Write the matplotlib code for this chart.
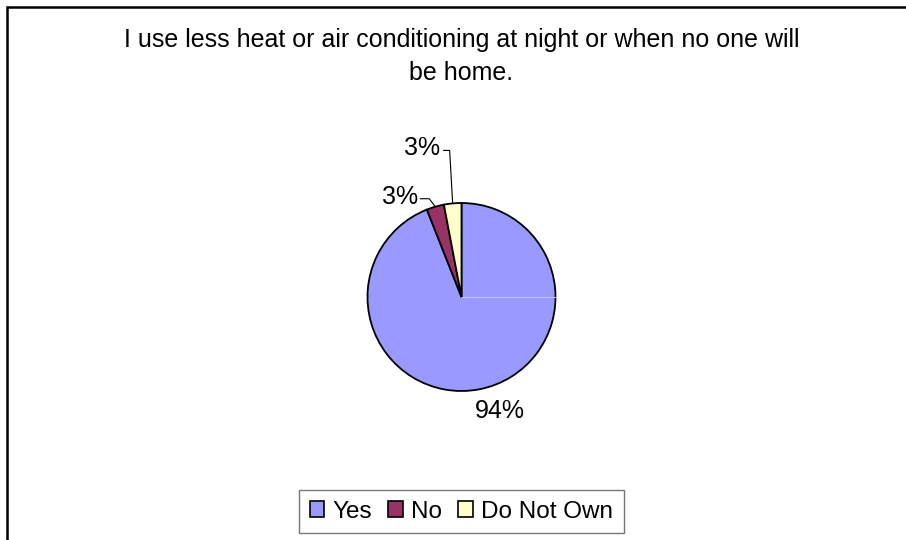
import matplotlib
matplotlib.use("Agg")
import matplotlib.pyplot as plt
import numpy as np
from matplotlib.patches import Patch, Rectangle

title = "I use less heat or air conditioning at night or when no one will\nbe home."
categories = ["Yes", "No", "Do Not Own"]
values = [94, 3, 3]
colors = ["#9999FF", "#993366", "#FFFFCC"]

FONT = ["Liberation Sans", "DejaVu Sans"]
plt.rcParams["font.family"] = FONT

W, H = 906, 540
fig = plt.figure(figsize=(W / 100, H / 100), dpi=100)
ax = fig.add_axes([0, 0, 1, 1])

# pie geometry in pixel units (y up)
cx, cy, r = 461.5, H - 297, 94
wedges, _ = ax.pie(values, colors=colors, startangle=90, counterclock=False,
                   center=(cx, cy), radius=r, frame=True,
                   wedgeprops=dict(edgecolor="black", linewidth=1.3))
# faint seam line seen in the original render
ax.plot([cx, cx + r - 1], [cy, cy], color="#c4c4ff", lw=0.8, zorder=3)

ax.set_xlim(0, W)
ax.set_ylim(0, H)
ax.set_aspect("equal")
ax.axis("off")

# label placement: text offset and optional leader elbow, relative to wedge edge midpoint
label_style = {
    "Yes": dict(text=(21, -22), elbow=None, line_end=None),
    "No": dict(text=(-35, 10), elbow=(-6, 8), line_end=(-15, 8)),
    "Do Not Own": dict(text=(-31, 55), elbow=(-3, 53), line_end=(-9, 53)),
}
for w, cat, v in zip(wedges, categories, values):
    mid = np.deg2rad((w.theta1 + w.theta2) / 2)
    ex, ey = cx + r * np.cos(mid), cy + r * np.sin(mid)
    st = label_style[cat]
    tx, ty = st["text"]
    ax.text(ex + tx, ey + ty, f"{v}%", fontsize=18, ha="center", va="center")
    if st["elbow"] is not None:
        bx, by = st["elbow"]
        lx, ly = st["line_end"]
        ax.plot([ex, ex + bx, ex + lx], [ey, ey + by, ey + ly], color="black", lw=0.8)

# title, two centred lines
for i, line in enumerate(title.split("\n")):
    ax.text(cx, H - 47 - i * 33, line, fontsize=18, ha="center", va="baseline")

handles = [Patch(facecolor=c, edgecolor="black", linewidth=1.2) for c in colors]
leg = fig.legend(handles, categories, loc="center", bbox_to_anchor=(461.5 / W, 1 - 511.5 / H),
                 ncol=3, fontsize=17.5, frameon=True, fancybox=False,
                 handlelength=0.6, handleheight=0.6, handletextpad=0.35,
                 columnspacing=0.65, borderpad=0.45)
leg.get_frame().set_edgecolor("#555555")
leg.get_frame().set_linewidth(1.0)

# outer chart-area border (right and bottom edges fall outside the image)
ax.add_patch(Rectangle((7, -30), W + 40, H - 7 + 30, fill=False,
                       edgecolor="black", linewidth=1.8, clip_on=False))

fig.savefig("out.png", dpi=100)
